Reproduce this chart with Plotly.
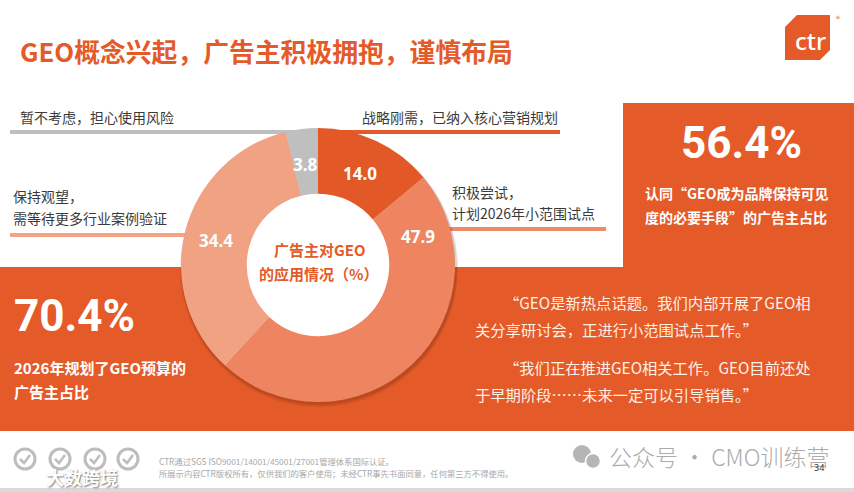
import plotly.graph_objects as go

# donut data
categories = ["战略刚需，已纳入核心营销规划", "积极尝试，计划2026年小范围试点",
              "保持观望，需等待更多行业案例验证", "暂不考虑，担心使用风险"]
shares = [14.0, 47.9, 34.4, 3.8]
slice_colors = ["#E35827", "#EE8460", "#F0A282", "#BFBFBF"]

# key figures
kpi_main = "56.4%"
kpi_main_text = ["认同“GEO成为品牌保持可见", "度的必要手段”的广告主占比"]
kpi_budget = "70.4%"
kpi_budget_text = ["2026年规划了GEO预算的", "广告主占比"]

quotes = [
    ["“GEO是新热点话题。我们内部开展了GEO相", "关分享研讨会，正进行小范围试点工作。”"],
    ["“我们正在推进GEO相关工作。GEO目前还处", "于早期阶段……未来一定可以引导销售。”"],
]

title = "GEO概念兴起，广告主积极拥抱，谨慎布局"
footer = ["CTR通过SGS ISO9001/14001/45001/27001管理体系国际认证。",
          "所展示内容CTR版权所有，仅供我们的客户使用；未经CTR事先书面同意，任何第三方不得使用。"]

W, H = 854, 492
ORANGE = "#E45A28"
CJK = "Noto Sans CJK SC"
HOLE = 0.52

# donut geometry (pixels)
cx, cy, r = 318, 265, 137

fig = go.Figure()
fig.add_trace(go.Pie(
    values=shares,
    labels=categories,
    marker=dict(colors=slice_colors, line=dict(width=0)),
    hole=HOLE,
    sort=False,
    direction="clockwise",
    rotation=0,
    textinfo="none",
    showlegend=False,
    domain=dict(x=[(cx - r) / W, (cx + r) / W], y=[1 - (cy + r) / H, 1 - (cy - r) / H]),
))

shapes = []


def rect(x0, y0, x1, y1, color):
    shapes.append(dict(type="rect", xref="x", yref="y", x0=x0, y0=y0, x1=x1, y1=y1,
                       fillcolor=color, line_width=0, layer="below"))


def hline(x0, x1, y, color, w=4):
    shapes.append(dict(type="line", xref="x", yref="y", x0=x0, y0=y, x1=x1, y1=y,
                       line=dict(color=color, width=w), layer="below"))


def circle(x, y, rad, fill="rgba(0,0,0,0)", line_color=None, lw=0):
    shapes.append(dict(type="circle", xref="x", yref="y", x0=x - rad, x1=x + rad,
                       y0=y - rad, y1=y + rad, fillcolor=fill,
                       line=dict(color=line_color or fill, width=lw), layer="below"))


# background blocks
rect(0, 267, W, 431, ORANGE)
rect(623, 103, W, 268, ORANGE)
rect(0, 488, W, H, "#DADADA")

# leader lines
hline(10, cx, 132, "#BFBFBF")
hline(cx, 560, 132, ORANGE)
hline(440, 606, 229, "#EE8A66")
hline(10, 192, 235, "#F2A485")

# soft shadow behind donut, white fill for the hole
circle(cx + 1, cy + 3, r + 2, fill="rgba(0,0,0,0.08)")
circle(cx + 1, cy + 2, r + 1, fill="rgba(0,0,0,0.10)")
circle(cx, cy, r * HOLE + 1, fill="white")

# ctr logo
shapes.append(dict(type="path", xref="x", yref="y",
                   path="M 797 15 L 830 15 L 830 50 L 820 60 L 785 60 L 785 27 Z",
                   fillcolor=ORANGE, line_width=0, layer="below"))

# certification badges
for bx in [25, 60, 95, 128]:
    circle(bx, 459, 10, line_color="#BDBDBD", lw=3)
    shapes.append(dict(type="path", xref="x", yref="y",
                       path=f"M {bx-5} 459 L {bx-1} 463 L {bx+5} 455",
                       line=dict(color="#BDBDBD", width=2.5), layer="below"))

# wechat icon
circle(582, 454, 9, fill="#B5B5B5")
circle(593, 461, 7.5, fill="#B5B5B5", line_color="white", lw=1.5)

annotations = []


def txt(x, y, s, size, color, weight=400, anchor="left", family=CJK, shadow=None):
    font = dict(size=size, color=color, family=family, weight=weight)
    if shadow:
        font["shadow"] = shadow
    annotations.append(dict(x=x, y=y, xref="x", yref="y", text=s, showarrow=False,
                            xanchor=anchor, yanchor="middle", font=font))


txt(18, 50, title, 25.8, ORANGE, 700)
txt(810, 40, "ctr", 24, "white", 500, "center", family="Noto Sans")
txt(838, 18, "®", 8, ORANGE, 400, "center")

# category labels around donut
txt(18, 117, "暂不考虑，担心使用风险", 14, "#3A3A3A")
txt(560, 117, "战略刚需，已纳入核心营销规划", 14, "#3A3A3A", anchor="right")
txt(450, 192, "积极尝试，", 14, "#3A3A3A")
txt(450, 213, "计划2026年小范围试点", 14, "#3A3A3A")
txt(11, 196, "保持观望，", 14, "#3A3A3A")
txt(11, 218, "需等待更多行业案例验证", 14, "#3A3A3A")

# slice values
label_pos = [(360, 173), (418, 236), (216, 240), (305, 164)]
for (lx, ly), v in zip(label_pos, shares):
    txt(lx, ly, f"{v:.1f}", 17, "white", 700, "center", family="Noto Sans")

txt(cx + 2, 249, "广告主对GEO", 15, ORANGE, 700, "center")
txt(cx, 273, "的应用情况（%）", 15, ORANGE, 700, "center")

# KPI boxes
txt(741, 143, kpi_main, 44, "white", 700, "center", family="Roboto")
txt(736, 193, kpi_main_text[0], 14, "white", 700, "center")
txt(736, 217, kpi_main_text[1], 14, "white", 700, "center")

txt(12, 316, kpi_budget, 44, "white", 700, family="Roboto")
txt(12, 367, kpi_budget_text[0], 15, "white", 700)
txt(12, 391, kpi_budget_text[1], 15, "white", 700)

# quotes
for (l1, l2), y in zip(quotes, [302, 367]):
    txt(502, y, l1, 15.3, "#FFF1E6")
    txt(473, y + 27, l2, 15.3, "#FFF1E6")

# footer
txt(157, 461, footer[0], 8.3, "#A8A8A8")
txt(157, 473, footer[1], 8.3, "#A8A8A8")
txt(44, 477, "大数跨境", 18, "white", 700, shadow="1px 1px 2px #777")
txt(607, 456, "公众号 · CMO训练营", 23, "#ABABAB", 300)
txt(819, 467, "34", 9, "#333333", 400, "center", family="Noto Sans")

fig.update_layout(
    width=W, height=H,
    margin=dict(l=0, r=0, t=0, b=0),
    paper_bgcolor="white", plot_bgcolor="white",
    xaxis=dict(range=[0, W], visible=False, fixedrange=True),
    yaxis=dict(range=[H, 0], visible=False, fixedrange=True),
    shapes=shapes,
    annotations=annotations,
)

fig.write_html("out.html", config={"displayModeBar": False},
               post_script="document.body.style.margin='0';")
